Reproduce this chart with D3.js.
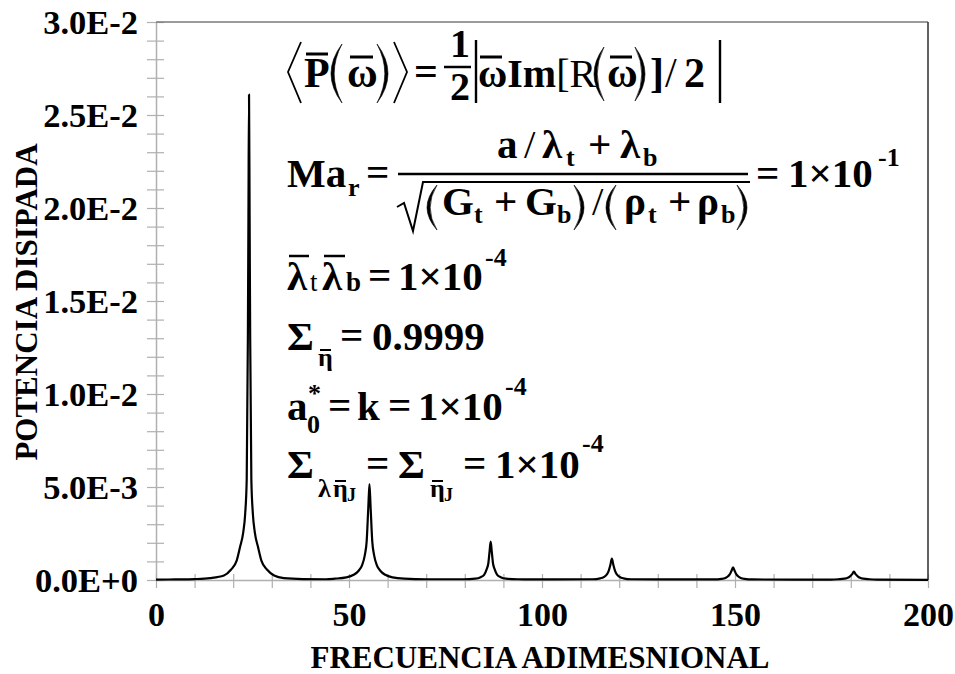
<!DOCTYPE html>
<html>
<head>
<meta charset="utf-8">
<script src="https://cdn.jsdelivr.net/npm/d3@7"></script>
</head>
<body style="margin:0">
<svg id="chart" width="955" height="674"></svg>
<script>
// Dimensionless frequency samples and the dissipated power read at each one
const frequency = [
  0, 5, 10, 14, 17.6, 19.4, 20.9, 21.8, 22.6, 23.1, 23.5, 23.8, 23.95, 24.1, 24.25, 24.4, 24.7, 25.1, 25.6, 26.4, 27.3, 28.8, 30.6, 33.1, 38.1,
  44, 46.3, 49.3, 51.2, 52.5, 53.4, 54.1, 54.57, 55.0, 55.3, 55.6, 56.03, 56.5, 57.2, 58.1, 59.4, 61.3, 64.3, 70,
  79.7, 82.7, 84.1, 85.0, 85.7, 86.1, 86.4, 86.7, 87.0, 87.3, 87.7, 88.4, 89.3, 90.7, 93.7, 102,
  113.1, 115.1, 116.1, 116.8, 117.3, 117.7, 118.1, 118.5, 118.9, 119.4, 120.1, 121.1, 123.1, 134,
  144.5, 146.5, 147.5, 148.2, 148.7, 149.1, 149.5, 149.9, 150.3, 150.8, 151.5, 152.5, 154.5, 165,
  174.8, 176.8, 178.3, 179.2, 179.8, 180.3, 180.8, 181.3, 181.8, 182.4, 183.3, 184.8, 186.8, 200
];
const power = [
  0.00002, 0.00003, 0.00005, 0.0001, 0.00024, 0.00055, 0.00104, 0.0018, 0.00256, 0.00355, 0.0054, 0.0130, 0.0196, 0.0261, 0.0196, 0.0130, 0.0054, 0.00355, 0.00256, 0.0018, 0.00104, 0.00055, 0.00024, 0.0001, 0.00005,
  0.00004, 0.00007, 0.00014, 0.00028, 0.0005, 0.0008, 0.00134, 0.00206, 0.0039, 0.00515, 0.0039, 0.00206, 0.00134, 0.0008, 0.0005, 0.00028, 0.00014, 0.00007, 0.00004,
  0.00004, 0.00007, 0.00015, 0.00028, 0.0006, 0.0009, 0.0015, 0.00206, 0.0015, 0.0009, 0.0006, 0.00028, 0.00015, 0.00007, 0.00004, 0.00003,
  0.00004, 0.00009, 0.00017, 0.0003, 0.0005, 0.0008, 0.00115, 0.0008, 0.0005, 0.0003, 0.00017, 0.00009, 0.00004, 0.00003,
  0.00003, 0.00006, 0.00011, 0.0002, 0.00032, 0.0005, 0.00068, 0.0005, 0.00032, 0.0002, 0.00011, 0.00006, 0.00003, 0.00002,
  0.00002, 0.00004, 0.00007, 0.00012, 0.0002, 0.0003, 0.00045, 0.0003, 0.0002, 0.00012, 0.00007, 0.00004, 0.00002, 0.00001
];

// Axis ticks and labels
const xTicks = [0, 50, 100, 150, 200];
const xTickLabels = ["0", "50", "100", "150", "200"];
const yTicks = [0, 0.005, 0.01, 0.015, 0.02, 0.025, 0.03];
const yTickLabels = ["0.0E+0", "5.0E-3", "1.0E-2", "1.5E-2", "2.0E-2", "2.5E-2", "3.0E-2"];
const xTitle = "FRECUENCIA ADIMESNIONAL";
const yTitle = "POTENCIA DISIPADA";

const FONT = '"Liberation Serif"';
// apply the serif face as both an inline style and an attribute
const serif = (sel, size, weight = "bold") => sel
  .attr("font-family", "Liberation Serif").attr("font-size", size).attr("font-weight", weight)
  .style("font-family", FONT).style("font-size", size + "px").style("font-weight", weight);

const svg = d3.select("#chart");
const plot = { left: 156, right: 928, top: 22, bottom: 580 };

const x = d3.scaleLinear().domain([0, 200]).range([plot.left, plot.right]);
const y = d3.scaleLinear().domain([0, 0.03]).range([plot.bottom, plot.top]);

const axisGray = "#b0b0b0";

// Minor + major tick marks crossing the axis lines
const yMinor = d3.range(0, 0.03001, 0.001);
const xMinor = d3.range(0, 200.01, 10);

const gy = svg.append("g").attr("transform", `translate(${plot.left},0)`)
  .call(d3.axisLeft(y).tickValues(yMinor).tickSize(0).tickFormat(""));
gy.select(".domain").attr("stroke", axisGray).attr("stroke-width", 1.5);
gy.selectAll(".tick line").attr("x1", -9).attr("x2", 8).attr("stroke", axisGray).attr("stroke-width", 1.2);

const gyl = svg.append("g").attr("transform", `translate(${plot.left},0)`)
  .call(d3.axisLeft(y).tickValues(yTicks).tickSize(0).tickPadding(18)
    .tickFormat((d, i) => yTickLabels[i]));
gyl.attr("font-family", null).attr("font-size", null);
gyl.select(".domain").remove();
serif(gyl.selectAll("text"), 34.5).attr("fill", "#000");

const gx = svg.append("g").attr("transform", `translate(0,${plot.bottom})`)
  .call(d3.axisBottom(x).tickValues(xMinor).tickSize(0).tickFormat(""));
gx.select(".domain").attr("stroke", axisGray).attr("stroke-width", 1.5);
gx.selectAll(".tick line").attr("y1", -6).attr("y2", 8).attr("stroke", axisGray).attr("stroke-width", 1.2);

const gxl = svg.append("g").attr("transform", `translate(0,${plot.bottom})`)
  .call(d3.axisBottom(x).tickValues(xTicks).tickSize(0).tickPadding(22)
    .tickFormat((d, i) => xTickLabels[i]));
gxl.attr("font-family", null).attr("font-size", null);
gxl.select(".domain").remove();
serif(gxl.selectAll("text"), 34).attr("fill", "#000");

// Frame: top and right edges of the plot area
svg.append("line").attr("x1", plot.left).attr("x2", plot.right).attr("y1", plot.top).attr("y2", plot.top)
  .attr("stroke", "#7a7a7a").attr("stroke-width", 1.6);
svg.append("line").attr("x1", plot.right).attr("x2", plot.right).attr("y1", plot.top).attr("y2", plot.bottom)
  .attr("stroke", "#3a3a3a").attr("stroke-width", 1.6);

// Power curve
const pts = frequency.map((f, i) => [f, power[i]]);
svg.append("path")
  .datum(pts)
  .attr("fill", "none")
  .attr("stroke", "#000")
  .attr("stroke-width", 2.2)
  .attr("stroke-linejoin", "round")
  .attr("d", d3.line().x(d => x(d[0])).y(d => y(d[1])).curve(d3.curveMonotoneX));

// Axis titles
serif(svg.append("text").attr("x", 540).attr("y", 668).attr("text-anchor", "middle"), 31).text(xTitle);
serif(svg.append("text").attr("transform", "translate(37,302) rotate(-90)").attr("text-anchor", "middle"), 31).text(yTitle);

// Equations annotating the plot
const eq = svg.append("g").attr("fill", "#000");
const T = (s, px, py, size = 41, w = "bold") =>
  serif(eq.append("text").attr("x", px).attr("y", py), size, w).text(s);
const bar = (x1, x2, py, sw = 2.5) =>
  eq.append("line").attr("x1", x1).attr("x2", x2).attr("y1", py).attr("y2", py)
    .attr("stroke", "#000").attr("stroke-width", sw);
const vbar = (px, y1, y2, sw = 2.4) =>
  eq.append("line").attr("x1", px).attr("x2", px).attr("y1", y1).attr("y2", y2)
    .attr("stroke", "#000").attr("stroke-width", sw);
const poly = (p, sw = 1.8) =>
  eq.append("path").attr("d", "M" + p.map(q => q.join(",")).join("L"))
    .attr("fill", "none").attr("stroke", "#000").attr("stroke-width", sw);
// tall parenthesis drawn as a crescent; left edge px, width w
const paren = (px, y1, y2, open, w = 10, t = 3.2) => {
  const m = (y1 + y2) / 2;
  const d = open
    ? `M${px + w},${y1} Q${px - w},${m} ${px + w},${y2} Q${px - w + 2 * t},${m} ${px + w},${y1} Z`
    : `M${px},${y1} Q${px + 2 * w},${m} ${px},${y2} Q${px + 2 * w - 2 * t},${m} ${px},${y1} Z`;
  eq.append("path").attr("d", d).attr("fill", "#000").attr("stroke", "#000").attr("stroke-width", 0.6);
};

// <P(w)> = 1/2 |w Im[R(w)] / 2|
poly([[301, 42], [288, 72], [301, 103]]);
T("P", 304, 87, 42); bar(306, 328, 54, 3);
paren(331, 44, 103, true, 11);
T("ω", 347, 87, 42); bar(350, 373, 57, 3);
paren(377, 44, 103, false, 11);
poly([[394, 42], [407, 72], [394, 103]]);
T("=", 414, 85, 42);
T("1", 450, 57, 40); bar(444, 471, 67, 2.5); T("2", 450, 100, 40);
vbar(476, 40, 103);
// "ωIm" bold followed by "[R" regular, as one run
const imr = serif(eq.append("text").attr("x", 478).attr("y", 87), 40);
imr.append("tspan").text("ωIm");
imr.append("tspan").attr("font-weight", "normal").style("font-weight", "normal").text("[R");
bar(480, 502, 57, 3);
paren(594, 47, 101, true, 10);
T("ω", 607, 87, 42); bar(610, 632, 57, 3);
paren(635, 47, 101, false, 10);
T("]", 650, 87, 42);
T("/", 665, 87, 42, "normal");
T("2", 684, 87, 42);
vbar(720, 40, 103);

// Ma_r = (a/λt + λb) / sqrt((Gt+Gb)/(ρt+ρb)) = 1×10^-1
T("Ma", 287, 187); T("r", 348, 196, 26);
T("=", 366, 186);
bar(398, 748, 174, 2.5);
T("a", 497, 158); T("/", 524, 158, 41, "normal"); T("λ", 542, 158); T("t", 566, 166, 26);
T("+", 588, 158); T("λ", 620, 158); T("b", 643, 166, 26);
poly([[397, 207], [404, 203], [413, 231], [423, 182], [750, 182]], 2);
paren(427, 185, 230, true, 10);
T("G", 442, 215); T("t", 474, 223, 26); T("+", 494, 215); T("G", 525, 215); T("b", 557, 223, 26);
paren(574, 185, 230, false, 10);
T("/", 592, 215, 41, "normal");
paren(606, 185, 230, true, 10);
T("ρ", 624, 215); T("t", 648, 223, 26); T("+", 668, 215); T("ρ", 697, 215); T("b", 721, 223, 26);
paren(737, 185, 230, false, 10);
T("=", 756, 187); T("1×10", 788, 187); T("-1", 878, 166, 26);

// λt λb = 1×10^-4
T("λ", 287, 290); bar(289, 309, 256); T("t", 310, 291, 27, "normal");
T("λ", 322, 290); bar(324, 345, 256); T("b", 346, 291, 27);
T("=", 368, 289); T("1×10", 398, 290); T("-4", 485, 266, 26);

// Σ_η = 0.9999
T("Σ", 287, 350); T("η", 318, 366, 26); bar(320, 331, 350, 2);
T("=", 340, 349); T("0.9999", 372, 350);

// a0* = k = 1×10^-4
T("a", 287, 420); T("0", 307, 433, 26); T("*", 308, 402, 26);
T("=", 328, 419); T("k", 357, 420); T("=", 388, 419);
T("1×10", 418, 420); T("-4", 505, 395, 26);

// Σ_{λη_J} = Σ_{η_J} = 1×10^-4
T("Σ", 287, 478); T("λ", 318, 497, 26); T("η", 333, 497, 26); bar(335, 346, 481, 2); T("J", 347, 501, 18);
T("=", 366, 477); T("Σ", 398, 478); T("η", 430, 497, 26); bar(432, 443, 481, 2); T("J", 444, 501, 18);
T("=", 463, 477); T("1×10", 495, 478); T("-4", 582, 452, 26);
</script>
</body>
</html>
